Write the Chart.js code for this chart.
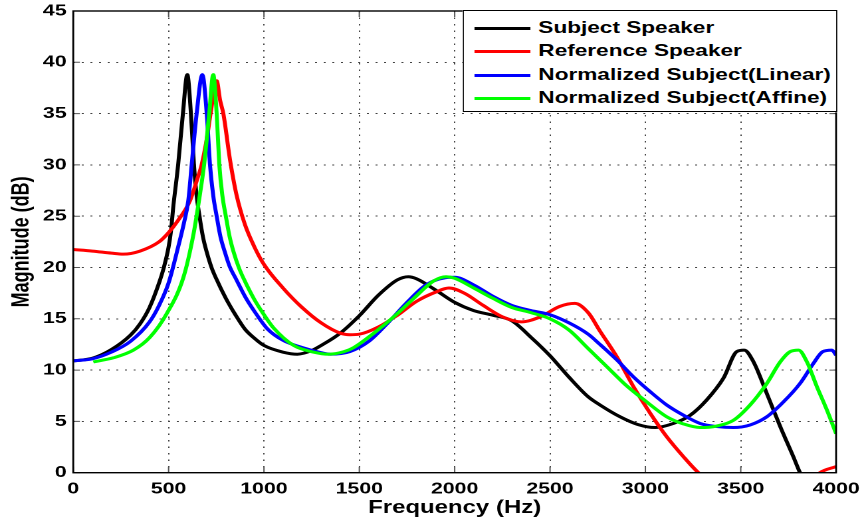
<!DOCTYPE html>
<html>
<head>
<meta charset="utf-8">
<script src="https://cdn.jsdelivr.net/npm/chart.js@4.4.1/dist/chart.umd.min.js"></script>
<style>
    html, body { margin: 0; padding: 0; background: #fff; }
    /* the original figure is stretched horizontally, so draw at 650px and scale to 864px */
    #wrap { position: relative; width: 650px; height: 522px; transform: scaleX(1.32923); transform-origin: 0 0; }
    #legendBox {
        position: absolute; left: 348px; top: 10px; width: 280px; height: 100px;
        background: #fff; border: 1px solid #000;
        font: bold 17px 'Liberation Sans', Arial, sans-serif; color: #000;
    }
    .row { position: absolute; left: 0; height: 22px; line-height: 22px; white-space: nowrap; }
    .row .swatch { position: absolute; left: 8px; top: 9.5px; width: 42px; height: 3px; }
    .row .txt { position: absolute; left: 56px; top: 0; }
</style>
</head>
<body>
<div id="wrap">
    <canvas id="chart"></canvas>
    <div id="legendBox"></div>
</div>
<script>
/* Formant envelopes: magnitude (dB) vs frequency (Hz) */

const seriesNames = ['Subject Speaker', 'Reference Speaker', 'Normalized Subject(Linear)', 'Normalized Subject(Affine)'];
const seriesColors = ['#000000', '#ff0000', '#0000ff', '#00ff00'];

const freqSubject = [0, 100, 200, 300, 350, 400, 450, 475, 500, 512, 525, 550, 575, 598, 617, 633, 647, 662, 680, 700, 725, 750, 800, 850,
    900, 950, 1000, 1100, 1175, 1250, 1300, 1400, 1500, 1600, 1700, 1757, 1800, 1900, 2000, 2100, 2200, 2300, 2400, 2500,
    2600, 2700, 2762, 2867, 2960, 3051, 3147, 3235, 3322, 3409, 3479, 3518, 3567, 3637, 3707, 3776, 3811, 3900, 4000];
const magSubject = [10.9, 11.15, 12.0, 13.4, 14.5, 16.1, 18.5, 20.0, 22.0, 23.5, 26.0, 30, 35, 38.8, 35, 30, 27.0, 25.0, 23.0, 21.5, 20.0, 18.9, 17.0, 15.4,
    14.0, 13.1, 12.4, 11.75, 11.55, 11.9, 12.4, 13.6, 15.3, 17.3, 18.8, 19.1, 18.9, 17.8, 16.6, 15.8, 15.35, 14.8, 13.2, 11.4,
    9.3, 7.4, 6.6, 5.45, 4.7, 4.4, 4.8, 5.6, 7.1, 9.2, 11.8, 11.95, 10.8, 7.7, 4.5, 1.55, 0, -3, -6];

const freqReference = [0, 100, 200, 262, 350, 450, 500, 550, 612, 650, 673, 700, 720, 752, 770, 787, 822, 857, 900, 950,
    1000, 1100, 1200, 1300, 1400, 1450, 1500, 1600, 1700, 1800, 1900, 1970, 2050, 2150, 2250, 2350, 2450, 2550, 2630, 2700,
    2762, 2850, 2937, 3025, 3112, 3200, 3278, 3400, 3550, 3700, 3850, 3915, 4000];
const magReference = [21.75, 21.6, 21.4, 21.3, 21.6, 22.5, 23.4, 24.6, 26.5, 28.6, 30, 32.5, 35, 38.2, 36.3, 35, 30.5, 27.0, 24.2, 22.0,
    20.3, 18.0, 16.1, 14.6, 13.6, 13.45, 13.5, 14.2, 15.35, 16.7, 17.6, 18.0, 17.5, 16.3, 15.2, 14.7, 15.2, 16.2, 16.5, 15.6,
    13.8, 11.3, 8.4, 5.8, 3.5, 1.55, 0, -1.8, -3.0, -2.8, -1.2, 0, 0.6];

const freqLinear = [0, 100, 200, 300, 400, 450, 500, 550, 580, 603, 621, 647, 677, 700, 717, 734, 752, 772, 795, 820, 850, 906,
    962, 1019, 1100, 1200, 1300, 1350, 1450, 1550, 1650, 1750, 1850, 1950, 2000, 2100, 2200, 2300, 2400, 2500, 2600, 2700,
    2762, 2850, 2937, 3025, 3112, 3200, 3287, 3374, 3461, 3549, 3637, 3724, 3811, 3881, 3930, 3978, 4000];
const magLinear = [10.9, 11.1, 11.75, 12.8, 14.7, 16.3, 18.5, 22.0, 24.3, 26.5, 30, 35, 38.8, 35, 30, 27.0, 25.0, 23.0, 21.5, 20.1, 19.0, 17.0,
    15.4, 14.0, 12.9, 12.2, 11.7, 11.55, 11.8, 12.8, 14.6, 16.6, 18.3, 19.0, 19.05, 18.3, 17.2, 16.3, 15.8, 15.4, 14.6, 13.5,
    12.5, 11.0, 9.35, 7.9, 6.6, 5.6, 4.8, 4.5, 4.4, 4.65, 5.45, 6.9, 8.7, 10.65, 11.8, 11.95, 11.45];

const freqAffine = [105, 211, 316, 402, 490, 577, 630, 659, 686, 713, 734, 752, 766, 782, 800, 820, 841, 868, 894, 946, 1000, 1051,
    1156, 1261, 1340, 1420, 1471, 1576, 1681, 1786, 1891, 1955, 2000, 2100, 2200, 2300, 2400, 2500, 2600, 2700, 2800, 2900,
    3000, 3112, 3200, 3287, 3374, 3461, 3549, 3637, 3707, 3759, 3803, 3847, 3899, 3952, 4000];
const magAffine = [10.8, 11.2, 11.95, 13.2, 15.5, 19.0, 23.2, 26.5, 30, 35, 38.8, 35, 30, 27.0, 25.0, 23.0, 21.5, 20.0, 18.9, 17.0, 15.4, 14.1,
    12.4, 11.75, 11.55, 11.8, 12.2, 13.6, 15.2, 17.0, 18.7, 19.1, 18.95, 18.0, 17.0, 16.1, 15.6, 15.0, 13.9, 12.1, 10.3, 8.5,
    7.0, 5.45, 4.75, 4.4, 4.55, 5.1, 6.6, 8.7, 10.8, 11.8, 11.95, 10.8, 8.4, 6.1, 3.8];

const xMin = 0, xMax = 4000, xStep = 500;
const yMin = 0, yMax = 45, yStep = 5;

const FONT = "'Liberation Sans', Arial, Helvetica, sans-serif";

function toPoints(xs, ys) {
    return xs.map((x, i) => ({ x: x, y: ys[i] }));
}

// MATLAB style box round the axes with small inward ticks
const frameBox = {
    id: 'frameBox',
    afterDatasetsDraw(chart) {
        const { ctx, chartArea: a, scales } = chart;
        ctx.save();
        ctx.strokeStyle = '#555';
        ctx.lineWidth = 1;
        ctx.beginPath();
        scales.x.ticks.forEach(t => {
            const px = scales.x.getPixelForValue(t.value);
            ctx.moveTo(px, a.bottom); ctx.lineTo(px, a.bottom - 6);
            ctx.moveTo(px, a.top); ctx.lineTo(px, a.top + 6);
        });
        scales.y.ticks.forEach(t => {
            const py = scales.y.getPixelForValue(t.value);
            ctx.moveTo(a.left, py); ctx.lineTo(a.left + 5, py);
            ctx.moveTo(a.right, py); ctx.lineTo(a.right - 5, py);
        });
        ctx.stroke();
        ctx.strokeStyle = '#000';
        ctx.lineWidth = 1.4;
        ctx.strokeRect(a.left, a.top, a.right - a.left, a.bottom - a.top);
        ctx.restore();
    }
};

const allFreq = [freqSubject, freqReference, freqLinear, freqAffine];
const allMag = [magSubject, magReference, magLinear, magAffine];

const datasets = seriesNames.map((name, i) => ({
    label: name,
    data: toPoints(allFreq[i], allMag[i]),
    borderColor: seriesColors[i],
    backgroundColor: seriesColors[i],
    borderWidth: 3,
    pointRadius: 0,
    cubicInterpolationMode: 'monotone',
    fill: false,
    clip: 0,
    order: 4 - i,
}));

const ctx = document.getElementById('chart').getContext('2d');
new Chart(ctx, {
    type: 'line',
    data: { datasets: datasets },
    options: {
        responsive: true,
        maintainAspectRatio: false,
        animation: false,
        devicePixelRatio: 2,
        layout: { padding: { top: 11, right: 21, bottom: 0, left: 0 } },
        scales: {
            x: {
                type: 'linear',
                min: xMin, max: xMax,
                afterFit(s) { s.height = 49.3; s.paddingLeft = 0; s.paddingRight = 0; },
                ticks: { stepSize: xStep, color: '#000', padding: 7, maxRotation: 0,
                    callback: v => String(v),
                    font: { family: FONT, size: 16, weight: 'bold' } },
                grid: { color: '#444', lineWidth: 1, drawTicks: false },
                border: { display: false, dash: [1.5, 5] },
                title: { display: true, text: 'Frequency (Hz)', color: '#000', padding: { top: 0, bottom: 3 },
                    font: { family: FONT, size: 18, weight: 'bold' } }
            },
            y: {
                min: yMin, max: yMax,
                afterFit(s) { s.width = 55.1; s.paddingTop = 0; s.paddingBottom = 0; },
                ticks: { stepSize: yStep, color: '#000', padding: 5,
                    callback: v => String(v),
                    font: { family: FONT, size: 16, weight: 'bold' } },
                grid: { color: '#444', lineWidth: 1, drawTicks: false },
                border: { display: false, dash: [1.5, 5] },
                title: { display: true, text: 'Magnitude (dB)', color: '#000', padding: { top: 5.7, bottom: 0 },
                    font: { family: FONT, size: 18, weight: 'bold' } }
            }
        },
        plugins: {
            legend: { display: false },
            tooltip: { enabled: false }
        }
    },
    plugins: [frameBox]
});

// legend box in the top right corner of the axes
const legendBox = document.getElementById('legendBox');
const rowCenters = [17, 40, 64, 87];
seriesNames.forEach((name, i) => {
    const row = document.createElement('div');
    row.className = 'row';
    row.style.top = (rowCenters[i] - 11) + 'px';
    row.innerHTML = '<span class="swatch" style="background:' + seriesColors[i] + '"></span><span class="txt"></span>';
    row.querySelector('.txt').textContent = name;
    legendBox.appendChild(row);
});
</script>
</body>
</html>
